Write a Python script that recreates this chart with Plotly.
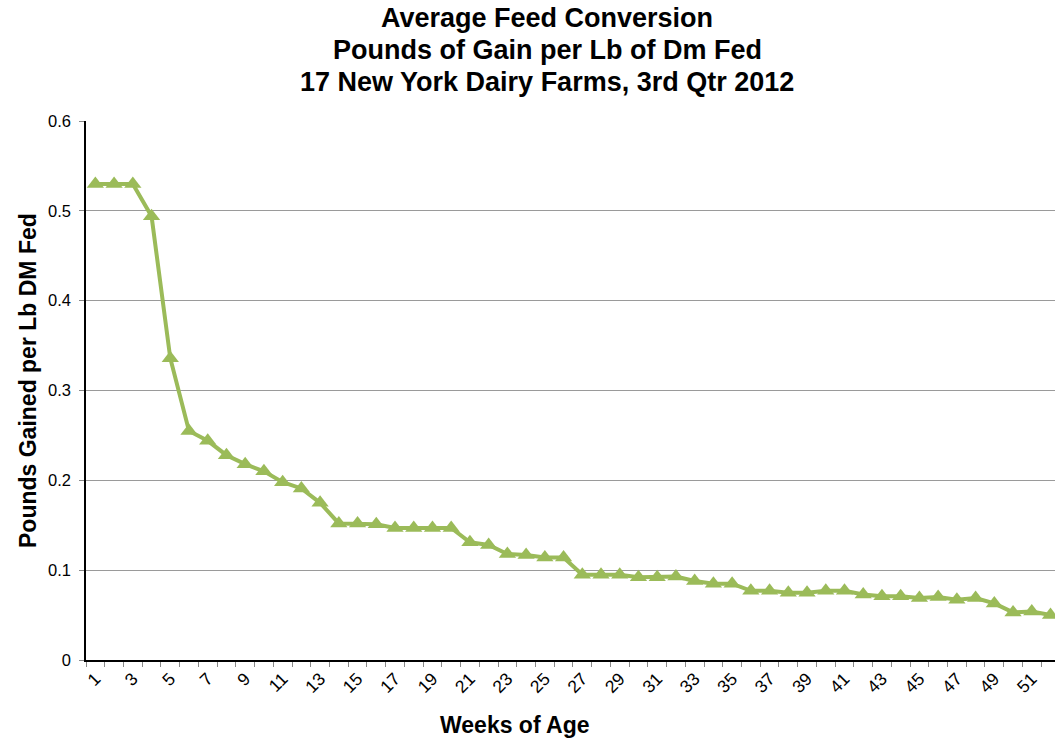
import plotly.graph_objects as go

weeks = list(range(1, 53))
gain_per_lb = [
    0.530, 0.530, 0.530, 0.494, 0.336, 0.255, 0.244, 0.228, 0.218, 0.210,
    0.198, 0.191, 0.175, 0.152, 0.152, 0.151, 0.147, 0.147, 0.147, 0.147,
    0.131, 0.128, 0.118, 0.117, 0.114, 0.114, 0.095, 0.095, 0.095, 0.092,
    0.092, 0.093, 0.088, 0.085, 0.085, 0.077, 0.077, 0.075, 0.075, 0.077,
    0.077, 0.073, 0.071, 0.071, 0.069, 0.070, 0.067, 0.069, 0.063, 0.053,
    0.054, 0.050,
]
tick_labels = [str(w) for w in weeks if w % 2 == 1]
y_ticks = [0, 0.1, 0.2, 0.3, 0.4, 0.5, 0.6]
y_tick_text = ["0", "0.1", "0.2", "0.3", "0.4", "0.5", "0.6"]
title_lines = ["Average Feed Conversion", "Pounds of Gain per Lb of Dm Fed",
               "17 New York Dairy Farms, 3rd Qtr 2012"]

FONT = "Liberation Sans, Arial, sans-serif"
GREEN = "#9BBB59"

PL, PT, PB = 86, 121, 80
PW, PH = 1055 - PL, 740 - PT - PB


def px_x(x):
    return (x - PL) / PW


def px_y(y):
    return (740 - PB - y) / PH


fig = go.Figure()
fig.add_trace(go.Scatter(
    x=weeks, y=gain_per_lb, mode="lines+markers",
    line=dict(color=GREEN, width=4),
    marker=dict(symbol="triangle-up", size=15, color=GREEN),
    showlegend=False, hoverinfo="x+y",
))

annotations = []
for i, line in enumerate(title_lines):
    annotations.append(dict(
        text=line, xref="paper", yref="paper",
        x=px_x(547), y=px_y(18 + 32 * i), xanchor="center", yanchor="middle",
        showarrow=False,
        font=dict(family=FONT, size=27, color="black", weight="bold")))
annotations += [
    dict(text="Weeks of Age", xref="paper", yref="paper",
         x=px_x(515), y=px_y(725), xanchor="center", yanchor="middle",
         showarrow=False, font=dict(family=FONT, size=23, color="black", weight="bold")),
    dict(text="Pounds Gained per Lb DM Fed", xref="paper", yref="paper",
         x=px_x(28), y=px_y(381), xanchor="center", yanchor="middle",
         textangle=-90, showarrow=False,
         font=dict(family=FONT, size=23, color="black", weight="bold")),
]

fig.update_layout(
    width=1055, height=740,
    margin=dict(l=PL, r=0, t=PT, b=PB, autoexpand=False),
    paper_bgcolor="white", plot_bgcolor="white",
    font=dict(family=FONT, color="black"),
    xaxis=dict(
        range=[0.5, 52.24],
        tickmode="array", tickvals=[int(t) for t in tick_labels], ticktext=tick_labels,
        ticks="", tickangle=-45, tickfont=dict(size=17.5, family=FONT),
        showgrid=False, zeroline=False,
        showline=True, linecolor="black", linewidth=1.5,
        minor=dict(tick0=0.5, dtick=1, ticks="outside", ticklen=5, tickcolor="#888", showgrid=False),
    ),
    yaxis=dict(
        range=[0, 0.6],
        tickmode="array", tickvals=y_ticks, ticktext=y_tick_text,
        ticks="outside", ticklen=5, tickcolor="#888",
        tickfont=dict(size=16.5, family=FONT), ticklabelstandoff=5,
        showgrid=True, gridcolor="#9a9a9a", gridwidth=1,
        zeroline=False, showline=True, linecolor="black", linewidth=1.5,
    ),
    annotations=annotations,
)

fig.write_html("out.html", config={"displayModeBar": False},
               post_script="document.body.style.margin='0';")
